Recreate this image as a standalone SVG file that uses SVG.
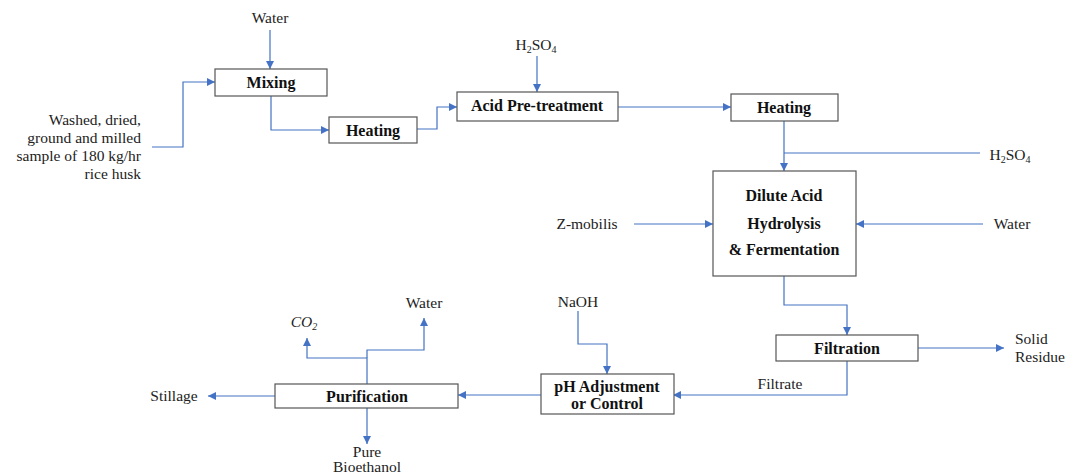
<svg xmlns="http://www.w3.org/2000/svg" width="1070" height="475" viewBox="0 0 1070 475">
<defs>
<marker id="ah" viewBox="0 0 10 10" refX="10" refY="5" markerWidth="8" markerHeight="8" markerUnits="userSpaceOnUse" orient="auto">
<path d="M0,0 L10,5 L0,10 z" fill="#4472C4"/>
</marker>
<style>
.box{fill:#fff;stroke:#555;stroke-width:1.2}
.bl{font-family:"Liberation Serif","Times New Roman",serif;font-weight:bold;font-size:16px;fill:#111;text-anchor:middle}
.lb{font-family:"Liberation Serif","Times New Roman",serif;font-size:15.5px;fill:#222}
.c{text-anchor:middle}
.r{text-anchor:end}
.ln{fill:none;stroke:#4472C4;stroke-width:1.2}
.ar{marker-end:url(#ah)}
</style>
</defs>
<rect width="1070" height="475" fill="#fff"/>
<g id="connectors">
<path class="ln ar" d="M270,30 V69"/>
<path class="ln ar" d="M152,147 H183 V82 H215"/>
<path class="ln ar" d="M271,96 V130 H329"/>
<path class="ln ar" d="M417,129 H437 V107 H457"/>
<path class="ln ar" d="M537,56 V92"/>
<path class="ln ar" d="M618,107 H731"/>
<path class="ln ar" d="M784,121 V171"/>
<path class="ln" d="M980,153 H784"/>
<path class="ln ar" d="M634,224 H713"/>
<path class="ln ar" d="M983,224 H856"/>
<path class="ln ar" d="M784,276 V305 H847 V335"/>
<path class="ln ar" d="M918,348 H1004"/>
<path class="ln ar" d="M847,361 V395 H673"/>
<path class="ln ar" d="M578,311 V344 H607 V374"/>
<path class="ln ar" d="M541,395 H458"/>
<path class="ln ar" d="M275,396 H208"/>
<path class="ln ar" d="M367,408 V444"/>
<path class="ln ar" d="M367,384 V358 H307 V338"/>
<path class="ln ar" d="M367,358 V350 H424 V318"/>
</g>
<g id="water-top"><text class="lb c" x="270" y="23">Water</text></g>
<g id="feed"><text class="lb r" x="141" y="125">Washed, dried,</text><text class="lb r" x="141" y="143">ground and milled</text><text class="lb r" x="141" y="161">sample of 180 kg/hr</text><text class="lb r" x="141" y="179">rice husk</text></g>
<g id="mixing"><rect class="box" x="215" y="69" width="112" height="27"/><text class="bl" x="271" y="88">Mixing</text></g>
<g id="heating1"><rect class="box" x="329" y="117" width="88" height="26"/><text class="bl" x="373" y="136">Heating</text></g>
<g id="h2so4-top"><text class="lb c" x="536" y="50">H<tspan font-size="10" dy="3">2</tspan><tspan dy="-3">SO</tspan><tspan font-size="10" dy="3">4</tspan></text></g>
<g id="acid"><rect class="box" x="457" y="92" width="161" height="29"/><text class="bl" x="537" y="111">Acid Pre-treatment</text></g>
<g id="heating2"><rect class="box" x="731" y="94" width="107" height="27"/><text class="bl" x="784" y="113">Heating</text></g>
<g id="h2so4-right"><text class="lb c" x="1010" y="160">H<tspan font-size="10" dy="3">2</tspan><tspan dy="-3">SO</tspan><tspan font-size="10" dy="3">4</tspan></text></g>
<g id="dilute"><rect class="box" x="713" y="171" width="143" height="105"/><text class="bl" x="784" y="201">Dilute Acid</text><text class="bl" x="784" y="229">Hydrolysis</text><text class="bl" x="784" y="255">&amp; Fermentation</text></g>
<g id="zmobilis"><text class="lb c" x="587" y="229">Z-mobilis</text></g>
<g id="water-right"><text class="lb c" x="1012" y="229">Water</text></g>
<g id="filtration"><rect class="box" x="776" y="335" width="142" height="26"/><text class="bl" x="847" y="354">Filtration</text></g>
<g id="solid"><text class="lb" x="1015" y="344">Solid</text><text class="lb" x="1015" y="362">Residue</text></g>
<g id="filtrate"><text class="lb c" x="780" y="389">Filtrate</text></g>
<g id="naoh"><text class="lb c" x="578" y="307">NaOH</text></g>
<g id="ph"><rect class="box" x="541" y="374" width="133" height="40"/><text class="bl" x="607" y="392">pH Adjustment</text><text class="bl" x="607" y="409" font-size="13">or Control</text></g>
<g id="purification"><rect class="box" x="275" y="384" width="183" height="24"/><text class="bl" x="367" y="402">Purification</text></g>
<g id="stillage"><text class="lb c" x="174" y="401">Stillage</text></g>
<g id="bioethanol"><text class="lb c" x="367" y="457">Pure</text><text class="lb c" x="367" y="472">Bioethanol</text></g>
<g id="co2"><text class="lb c" x="304" y="327" font-style="italic">CO<tspan font-size="10" dy="3">2</tspan></text></g>
<g id="water-bottom"><text class="lb c" x="424" y="308">Water</text></g>
</svg>
